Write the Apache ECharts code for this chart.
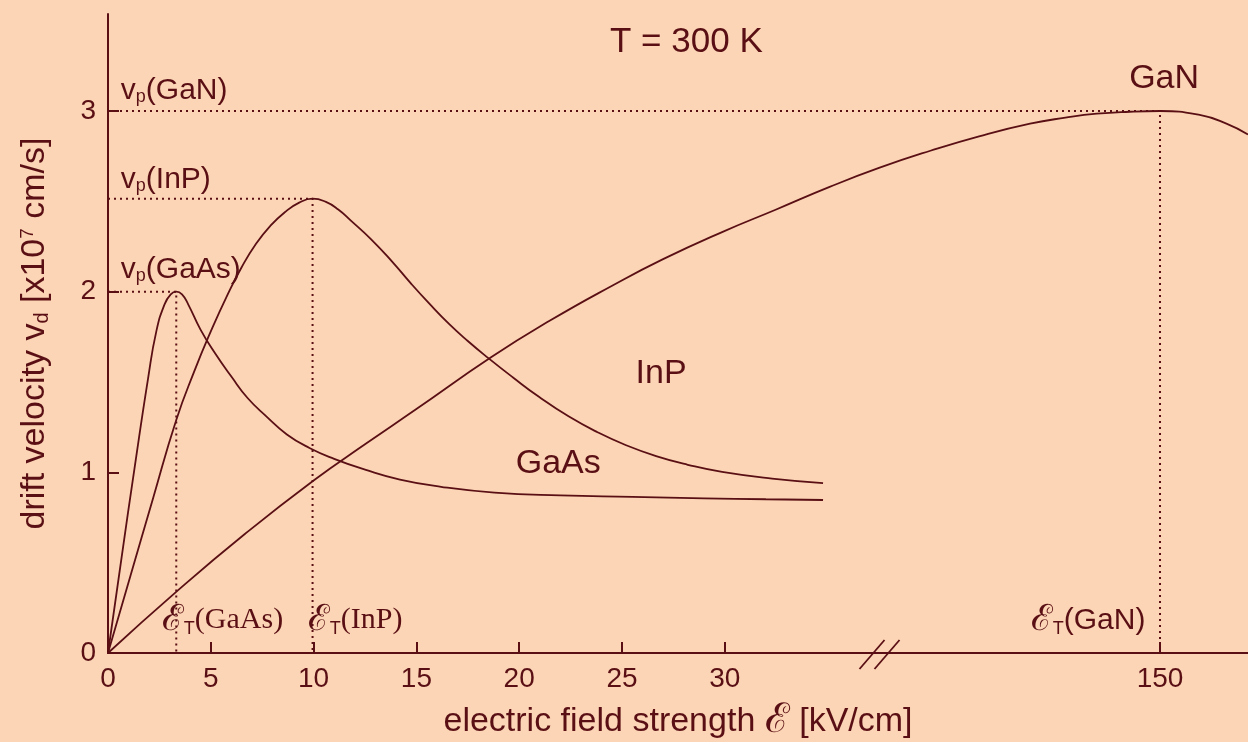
<!DOCTYPE html>
<html><head><meta charset="utf-8">
<script src="https://cdn.jsdelivr.net/npm/echarts@6/dist/echarts.min.js"></script>
<style>html,body{margin:0;padding:0;background:#FBD5B5;}#c{width:1248px;height:742px;}</style>
</head><body><div id="c"></div>
<script>
// ---- data: field strength in kV/cm, drift velocity in 1e7 cm/s ----
const gaasField = [0, 0.65, 1.3, 1.95, 2.35, 2.75, 3.05, 3.32, 3.6, 3.9, 4.5, 5.2, 6.0, 6.8, 7.7, 8.7, 9.8, 11.0, 12.5, 14.2, 16.2, 18.8, 22.0, 25.5, 29.0, 32.0, 34.78];
const gaasVel   = [0, 0.52, 1.03, 1.52, 1.78, 1.93, 1.985, 2.0, 1.985, 1.93, 1.79, 1.66, 1.53, 1.41, 1.31, 1.21, 1.135, 1.075, 1.015, 0.96, 0.92, 0.888, 0.872, 0.864, 0.856, 0.851, 0.847];
const inpField  = [0, 1.1, 2.2, 3.32, 4.2, 5.0, 5.8, 6.5, 7.2, 7.9, 8.6, 9.3, 9.95, 10.6, 11.2, 11.8, 12.8, 13.83, 14.7, 15.62, 16.6, 17.5, 18.47, 19.7, 20.96, 22.4, 23.81, 25.2, 26.66, 28.2, 29.87, 32.3, 34.78];
const inpVel    = [0, 0.43, 0.86, 1.29, 1.56, 1.78, 1.98, 2.135, 2.265, 2.365, 2.44, 2.493, 2.515, 2.497, 2.455, 2.395, 2.29, 2.165, 2.05, 1.935, 1.82, 1.727, 1.635, 1.525, 1.418, 1.31, 1.222, 1.15, 1.09, 1.042, 1.002, 0.965, 0.94];
const ganField  = [0, 3.33, 6.67, 10, 12.5, 15, 18.65, 21.5, 24.52, 27, 29.87, 32.5, 35.1, 37.5, 138.83, 141.2, 143.68, 145.4, 146.93, 148.53, 150, 151.93, 153.23, 154.28];
const ganVel    = [0, 0.34, 0.66, 0.955, 1.155, 1.35, 1.638, 1.84, 2.033, 2.18, 2.33, 2.455, 2.58, 2.685, 2.78, 2.86, 2.93, 2.963, 2.985, 2.996, 3.0, 2.978, 2.93, 2.87];
const materials  = ['GaAs', 'InP', 'GaN'];
const peakFields = [3.32, 9.95, 150];
const peakVels   = [2.0, 2.515, 3.0];
const xTickValues = [0, 5, 10, 15, 20, 25, 30, 150];
const yTickValues = [0, 1, 2, 3];

// ---- broken field axis: values past the break are shifted left ----
const BREAK_AT = 37.6;      // axis position of the break marks
const BREAK_SHIFT = 98.83;  // kV/cm removed by the break
const toAxis = E => (E > BREAK_AT ? E - BREAK_SHIFT : E);
const X_MAX = 55.45, Y_MAX = 3.537;

const C = '#5a0f14';
const SANS = "'Liberation Sans', Arial, sans-serif";
const SERIF = "'Liberation Serif', 'Times New Roman', serif";

const zip = (xs, ys) => xs.map((x, i) => [toAxis(x), ys[i]]);
const curve = (name, xs, ys) => ({
  name, type: 'line', data: zip(xs, ys), symbol: 'none', smooth: 0.5,
  lineStyle: { color: C, width: 1.8 }, z: 3, silent: true
});
const guides = materials.map((m, i) => ({
  name: 'guide ' + m, type: 'line', symbol: 'none', silent: true, z: 2,
  data: [[0, peakVels[i]], [toAxis(peakFields[i]), peakVels[i]], [toAxis(peakFields[i]), 0]],
  lineStyle: { color: C, width: 2, type: [2, 4] }
}));

const richMain = (fs, ff) => ({
  m: { fontSize: fs, fontFamily: ff, color: C },
  e: { fontSize: Math.round(fs * 1.2), fontFamily: SERIF, color: C },
  s: { fontSize: Math.round(fs * 0.6), fontFamily: SANS, color: C, verticalAlign: 'bottom' },
  u: { fontSize: Math.round(fs * 0.55), fontFamily: SANS, color: C, verticalAlign: 'top' }
});
const note = (E, v, text, pos, fs, ff) => ({
  value: [toAxis(E), v],
  label: { show: true, position: pos, distance: 0, formatter: text, color: C, opacity: 1,
    textBorderWidth: 0, rich: richMain(fs, ff) }
});
const notes = [
  note(0.6, 3.11, '{m|v}{s|p}{m|(GaN)}', 'right', 30, SANS),
  note(0.6, 2.62, '{m|v}{s|p}{m|(InP)}', 'right', 30, SANS),
  note(0.6, 2.12, '{m|v}{s|p}{m|(GaAs)}', 'right', 30, SANS),
  note(150.2, 3.18, '{m|GaN}', 'inside', 34, SANS),
  note(26.9, 1.545, '{m|InP}', 'inside', 34, SANS),
  note(21.9, 1.046, '{m|GaAs}', 'inside', 34, SANS),
  note(5.57, 0.18, '{e|ℰ}{s|T}{m|(GaAs)}', 'inside', 30, SERIF),
  note(12.02, 0.18, '{e|ℰ}{s|T}{m|(InP)}', 'inside', 30, SERIF),
  note(146.5, 0.18, '{e|ℰ}{s|T}{m|(GaN)}', 'inside', 30, SANS)
];

const chart = echarts.init(document.getElementById('c'), null, { renderer: 'canvas' });
chart.setOption({
  backgroundColor: '#FBD5B5',
  animation: false,
  title: { text: 'T = 300 K', left: 605, top: 20, textStyle: { color: C, fontSize: 35, fontWeight: 'normal', fontFamily: SANS } },
  grid: { left: 108, right: 0, top: 14, bottom: 89, containLabel: false, outerBoundsMode: 'none' },
  xAxis: [{
    type: 'value', min: 0, max: X_MAX,
    name: '{m|electric field strength }{e|ℰ}{m| [kV/cm]}', nameLocation: 'middle', nameGap: 48,
    nameTextStyle: { color: C, fontSize: 34, fontFamily: SANS, rich: richMain(34, SANS) },
    axisLine: { show: true, onZero: false, lineStyle: { color: C, width: 2 } },
    axisTick: { show: true, inside: true, length: 11, customValues: xTickValues.map(toAxis), lineStyle: { color: C, width: 2 } },
    axisLabel: {
      show: true, margin: 12, color: C, fontSize: 28, fontFamily: SANS,
      customValues: xTickValues.map(toAxis),
      formatter: v => { const i = xTickValues.findIndex(t => Math.abs(toAxis(t) - v) < 1e-6); return i >= 0 ? String(xTickValues[i]) : ''; }
    },
    splitLine: { show: false }
  }, {
    type: 'value', min: 0, max: X_MAX, position: 'top',
    axisLine: { show: true, lineStyle: { color: C, width: 2 } },
    axisTick: { show: false }, axisLabel: { show: false }, splitLine: { show: false }
  }],
  yAxis: {
    type: 'value', min: 0, max: Y_MAX,
    name: '{m|drift velocity v}{s|d}{m| [x10}{u|7}{m| cm/s]}', nameLocation: 'middle', nameGap: 56,
    nameTextStyle: { color: C, fontSize: 34, fontFamily: SANS, rich: richMain(34, SANS) },
    axisLine: { show: true, onZero: false, lineStyle: { color: C, width: 2 } },
    axisTick: { show: true, inside: true, length: 11, customValues: yTickValues, lineStyle: { color: C, width: 2 } },
    axisLabel: { show: true, margin: 12, color: C, fontSize: 28, fontFamily: SANS, customValues: yTickValues },
    splitLine: { show: false }
  },
  series: [
    ...guides,
    curve('GaAs', gaasField, gaasVel),
    curve('InP', inpField, inpVel),
    curve('GaN', ganField, ganVel),
    {
      name: 'axis break', type: 'custom', silent: true, clip: false, z: 5,
      data: [[BREAK_AT, 0]],
      renderItem: (params, api) => {
        const p = api.coord([api.value(0), api.value(1)]);
        const mk = dx => ({ type: 'line', shape: { x1: p[0] + dx - 14, y1: p[1] + 16, x2: p[0] + dx + 11, y2: p[1] - 13 },
          style: { stroke: C, lineWidth: 1.8 } });
        return { type: 'group', children: [mk(-7.5), mk(7.5)] };
      }
    },
    {
      name: 'notes', type: 'scatter', silent: true, z: 6, symbolSize: 1,
      itemStyle: { color: 'rgba(0,0,0,0)', opacity: 1 },
      data: notes
    }
  ]
});
</script></body></html>
